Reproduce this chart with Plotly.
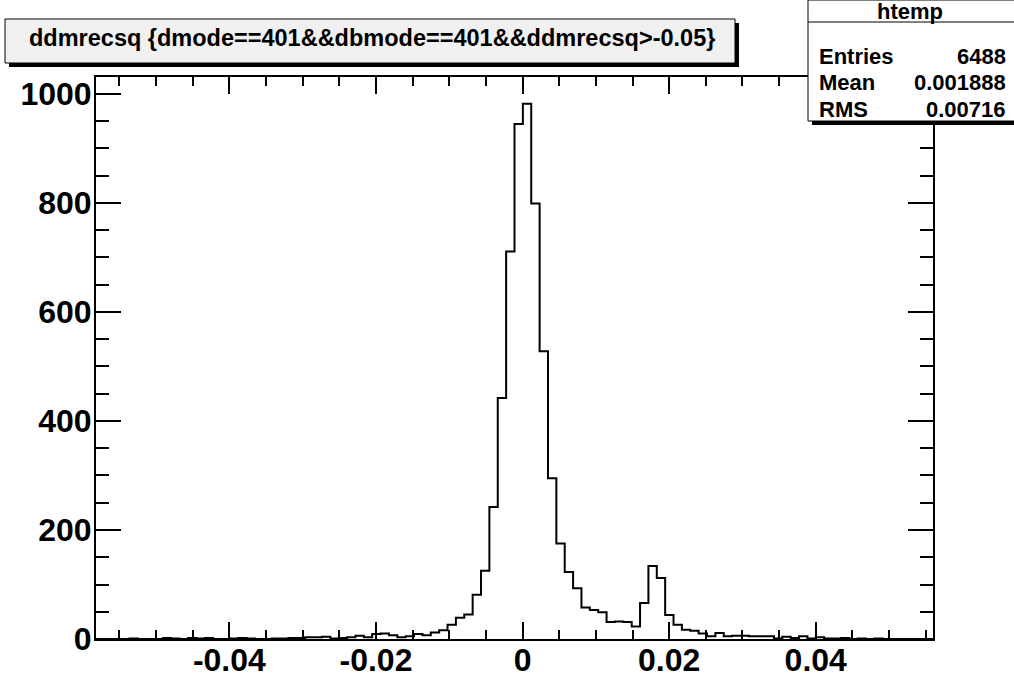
import numpy as np
import plotly.graph_objects as go

# ---------------- data ----------------
XMIN = -0.0582
XMAX = 0.0560
NBINS = 100
counts = [
    0, 0, 0, 0, 1, 0, 0, 0, 2, 1,
    0, 2, 1, 2, 0, 0, 1, 2, 1, 0,
    0, 1, 1, 2, 2, 3, 3, 4, 1, 2,
    3, 6, 3, 9, 10, 7, 3, 5, 9, 7,
    12, 16, 26, 39, 45, 81, 125, 242, 442, 711,
    945, 982, 799, 528, 295, 175, 123, 93, 58, 53,
    49, 31, 32, 31, 23, 66, 134, 112, 44, 26,
    17, 15, 10, 5, 11, 5, 6, 6, 5, 5,
    5, 1, 4, 2, 5, 1, 3, 1, 1, 2,
    0, 1, 0, 1, 0, 0, 0, 0, 0, 0,
]
x_ticks = [-0.04, -0.02, 0, 0.02, 0.04]
x_ticklabels = ["-0.04", "-0.02", "0", "0.02", "0.04"]
y_ticks = [0, 200, 400, 600, 800, 1000]
y_ticklabels = ["0", "200", "400", "600", "800", "1000"]
title_text = "ddmrecsq {dmode==401&&dbmode==401&&ddmrecsq>-0.05}"
stats_name = "htemp"
stats_labels = ["Entries", "Mean", "RMS"]
stats_values = ["6488", "0.001888", "0.00716"]

# ---------------- geometry ----------------
W, H = 1014, 677
L, R, T, B = 96, 933, 77, 639

def px(x):
    return (x - L) / (R - L)

def py(y):
    return (B - y) / (B - T)

FONT = "Liberation Sans, Arial, Helvetica, sans-serif"

edges = np.linspace(XMIN, XMAX, NBINS + 1)
ys = list(counts) + [counts[-1]]

fig = go.Figure()
fig.add_trace(go.Scatter(
    x=edges, y=ys, mode="lines", line=dict(shape="hv", color="black", width=2),
    hoverinfo="skip", showlegend=False,
))

ymax = max(counts) * 1.05

fig.update_layout(
    width=W, height=H,
    margin=dict(l=L, r=W - R, t=T, b=H - B, autoexpand=False),
    paper_bgcolor="white", plot_bgcolor="white",
    font=dict(family=FONT, color="black"),
    showlegend=False,
)
fig.update_xaxes(
    range=[XMIN, XMAX], showgrid=False, zeroline=False,
    showline=True, linecolor="black", linewidth=2, mirror="ticks",
    ticks="inside", ticklen=17, tickwidth=1.5, tickcolor="black",
    tickvals=x_ticks, ticktext=x_ticklabels,
    tickfont=dict(family=FONT, size=32, color="black", weight="bold"),
    ticklabelstandoff=-8,
    minor=dict(dtick=0.005, tick0=0, ticks="inside", ticklen=9, tickwidth=1.5, tickcolor="black", showgrid=False),
    automargin=False,
)
fig.update_yaxes(
    range=[0, ymax], showgrid=False, zeroline=False,
    showline=True, linecolor="black", linewidth=2, mirror="ticks",
    ticks="inside", ticklen=25, tickwidth=1.5, tickcolor="black",
    tickvals=y_ticks, ticktext=y_ticklabels,
    tickfont=dict(family=FONT, size=32, color="black", weight="bold"),
    ticklabelstandoff=-4,
    minor=dict(dtick=50, tick0=0, ticks="inside", ticklen=13, tickwidth=1.5, tickcolor="black", showgrid=False),
    automargin=False,
)

shapes = []
# title box with shadow
tb = dict(x0=5, x1=735, y0=19, y1=63)
shapes.append(dict(type="rect", xref="paper", yref="paper",
                   x0=px(tb["x0"] + 4), x1=px(tb["x1"] + 4), y0=py(tb["y1"] + 4), y1=py(tb["y0"] + 4),
                   fillcolor="black", line=dict(width=0), layer="above"))
shapes.append(dict(type="rect", xref="paper", yref="paper",
                   x0=px(tb["x0"]), x1=px(tb["x1"]), y0=py(tb["y1"]), y1=py(tb["y0"]),
                   fillcolor="#f0f0f0", line=dict(color="black", width=1), layer="above"))
# stats box with shadow
sb = dict(x0=808, x1=1018, y0=0, y1=121)
shapes.append(dict(type="rect", xref="paper", yref="paper",
                   x0=px(sb["x0"] + 4), x1=px(sb["x1"] + 4), y0=py(sb["y1"] + 4), y1=py(sb["y0"] + 4),
                   fillcolor="black", line=dict(width=0), layer="above"))
shapes.append(dict(type="rect", xref="paper", yref="paper",
                   x0=px(sb["x0"]), x1=px(sb["x1"]), y0=py(sb["y1"]), y1=py(sb["y0"]),
                   fillcolor="white", line=dict(color="black", width=1), layer="above"))
shapes.append(dict(type="line", xref="paper", yref="paper",
                   x0=px(sb["x0"]), x1=px(sb["x1"]), y0=py(22), y1=py(22),
                   line=dict(color="black", width=1), layer="above"))
fig.update_layout(shapes=shapes)

ann = []
ann.append(dict(text=f"<b>{title_text}</b>", xref="paper", yref="paper",
                x=px(372), y=py(38), xanchor="center", yanchor="middle",
                showarrow=False, font=dict(family=FONT, size=23.5, color="black")))
ann.append(dict(text=f"<b>{stats_name}</b>", xref="paper", yref="paper",
                x=px(910), y=py(11), xanchor="center", yanchor="middle",
                showarrow=False, font=dict(family=FONT, size=22, color="black")))
row_y = [56, 82, 109]
for lab, val, yy in zip(stats_labels, stats_values, row_y):
    ann.append(dict(text=f"<b>{lab}</b>", xref="paper", yref="paper",
                    x=px(sb["x0"] + 9), y=py(yy), xanchor="left", yanchor="middle",
                    showarrow=False, font=dict(family=FONT, size=22, color="black")))
    ann.append(dict(text=f"<b>{val}</b>", xref="paper", yref="paper",
                    x=px(1008), y=py(yy), xanchor="right", yanchor="middle",
                    showarrow=False, font=dict(family=FONT, size=22, color="black")))
fig.update_layout(annotations=ann)

fig.write_html("out.html", config={"displayModeBar": False},
               post_script="document.body.style.margin='0';")
